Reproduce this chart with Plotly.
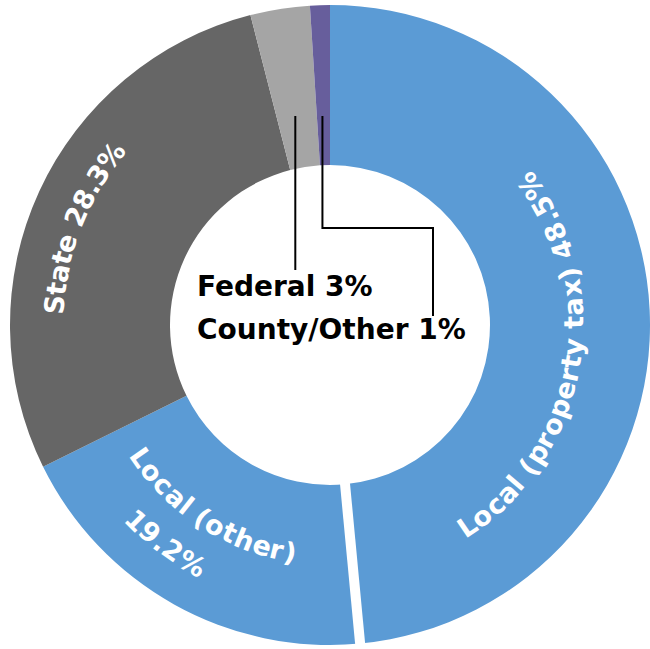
import math
import plotly.graph_objects as go

# ---- data ----
labels = ["Local (property tax)", "Local (other)", "State", "Federal", "County/Other"]
values = [48.5, 19.2, 28.3, 3, 1]
value_text = ["48.5%", "19.2%", "28.3%", "3%", "1%"]
colors = ["#5B9BD5", "#5B9BD5", "#666666", "#A5A5A5", "#675E9C"]

# ---- geometry ----
W, H = 650, 649
ML, MR, MT, MB = 10, 0, 5, 4
PW, PH = W - ML - MR, H - MT - MB
CX, CY = ML + PW / 2, MT + PH / 2
R = min(PW, PH) / 2


def px(x, y):
    return (x - ML) / PW, (H - MB - y) / PH


def polar_deg(phi, r):
    a = math.radians(phi)
    return CX + r * math.sin(a), CY - r * math.cos(a)


def polar(frac, r):
    return polar_deg(360 * frac, r)


total = sum(values)
cum = []
c = 0
for v in values:
    cum.append(c / total)
    c += v

fig = go.Figure(go.Pie(
    labels=labels, values=values, sort=False, direction="clockwise",
    rotation=0, hole=0.5, textinfo="none", hoverinfo="label+percent",
    marker=dict(colors=colors, line=dict(width=0)),
    domain=dict(x=[0, 1], y=[0, 1]), showlegend=False,
))

shapes = []
# white separator between the two local slices
b = cum[1]
x0, y0 = polar(b, R * 0.47)
x1, y1 = polar(b, R * 1.03)
p0, p1 = px(x0, y0), px(x1, y1)
shapes.append(dict(type="line", xref="paper", yref="paper",
                   x0=p0[0], y0=p0[1], x1=p1[0], y1=p1[1],
                   line=dict(color="white", width=10)))

# leader lines for small slices
fed_mid = cum[3] + values[3] / total / 2
cty_mid = cum[4] + values[4] / total / 2
fx, _ = polar(fed_mid, 209)
cx_, _ = polar(cty_mid, 209)
fx, cx_ = fx - 2, cx_ - 1
pts_f = [px(fx, 116), px(fx, 270)]
pts_c = [px(cx_, 116), px(cx_, 228), px(433, 228), px(433, 316)]


def path(pts):
    return "M " + " L ".join(f"{x:.5f},{y:.5f}" for x, y in pts)


for pts in (pts_f, pts_c):
    shapes.append(dict(type="path", xref="paper", yref="paper", path=path(pts),
                       line=dict(color="black", width=2)))

FONT = "DejaVu Sans, Verdana, sans-serif"
# approximate advance widths (em) of DejaVu Sans Bold
CW = {" ": 0.348, "%": 1.002, "(": 0.457, ")": 0.457, ".": 0.381, "/": 0.367,
      "L": 0.637, "S": 0.722, "a": 0.675, "c": 0.593, "e": 0.678, "h": 0.712,
      "l": 0.343, "o": 0.687, "p": 0.716, "r": 0.493, "t": 0.478, "x": 0.667,
      "y": 0.652}
for d in "0123456789":
    CW[d] = 0.696

ann = []


def curved(text, phi_mid, r, size, inward, color="white"):
    """Text along an arc concentric with the donut."""
    widths = [CW.get(ch, 0.65) * size for ch in text]
    L = sum(widths)
    pos = 0
    sgn = -1 if inward else 1  # inward tops -> reading counter-clockwise
    for ch, w in zip(text, widths):
        center = pos + w / 2
        pos += w
        if ch == " ":
            continue
        off = center - L / 2
        phi = phi_mid + sgn * math.degrees(off / r)
        x, y = polar_deg(phi, r)
        ang = phi + 180 if inward else phi
        ang = (ang + 180) % 360 - 180
        p = px(x, y)
        ann.append(dict(text=ch, x=p[0], y=p[1], xref="paper", yref="paper",
                        showarrow=False, textangle=ang, xanchor="center",
                        yanchor="middle", borderpad=0,
                        font=dict(family=FONT, size=size, color=color,
                                  weight="bold")))


SZ = 27
curved(f"{labels[0]} {value_text[0]}", 100.0, 244, SZ, True)
curved(f"{labels[2]} {value_text[2]}", 291.4, 276, SZ, False)
curved(labels[1], 212.8, 231, SZ, True)
curved(value_text[1], 217.0, 275, SZ, True)


def straight(text, x, y, size):
    p = px(x, y)
    ann.append(dict(text=text, x=p[0], y=p[1], xref="paper", yref="paper",
                    showarrow=False, xanchor="left", yanchor="middle",
                    font=dict(family=FONT, size=size, color="black",
                              weight="bold")))


straight(f"{labels[3]} {value_text[3]}", 195, 286, 28)
straight(f"{labels[4]} {value_text[4]}", 195, 329, 28)

fig.update_layout(
    width=W, height=H, margin=dict(l=ML, r=MR, t=MT, b=MB),
    paper_bgcolor="white", plot_bgcolor="white",
    shapes=shapes, annotations=ann,
)
fig.write_html("out.html", config={"displayModeBar": False},
               post_script="document.body.style.margin='0';")
